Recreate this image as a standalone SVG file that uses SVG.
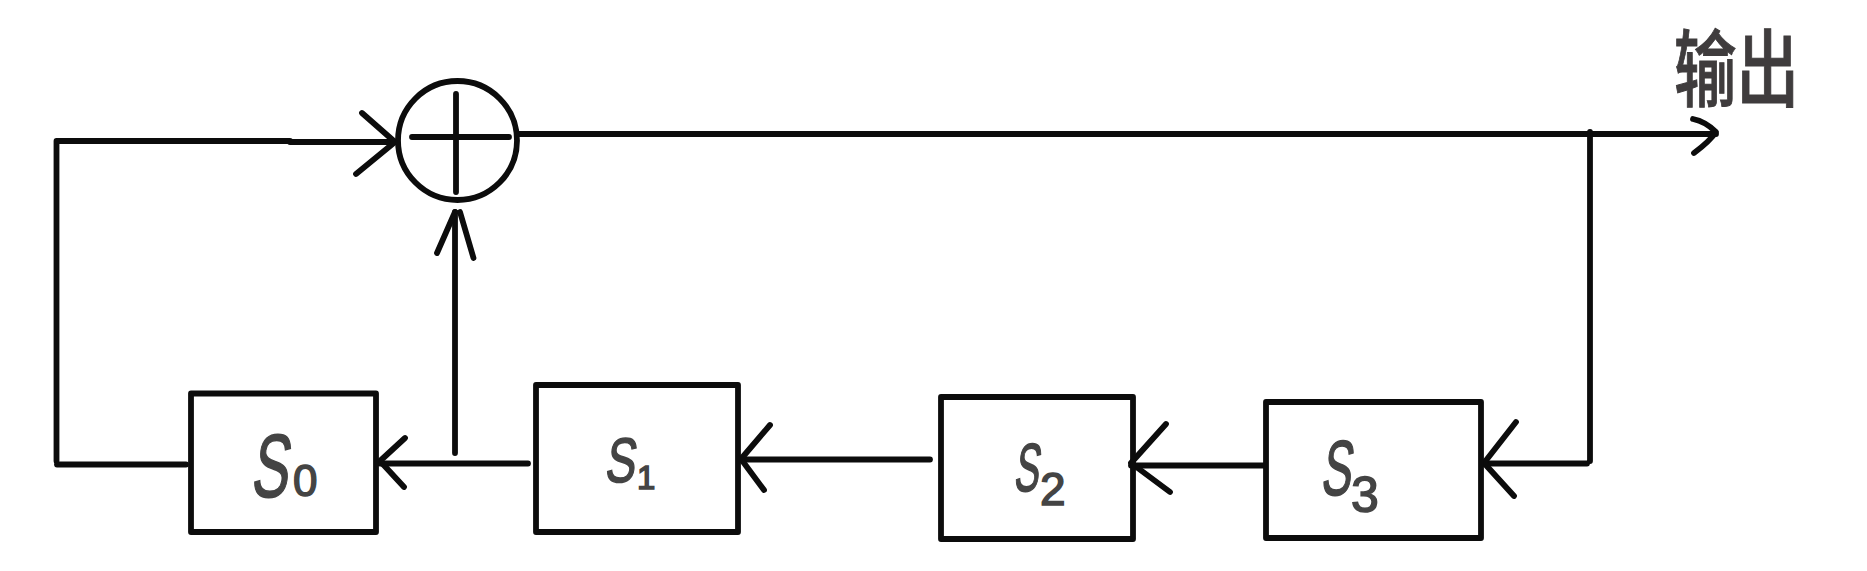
<svg xmlns="http://www.w3.org/2000/svg" width="1867" height="571" viewBox="0 0 1867 571">
<style>
.l{fill:none;stroke:#0c0c0c;stroke-width:5.800;stroke-linecap:round;stroke-linejoin:round}
.b{fill:none;stroke:#0c0c0c;stroke-width:5.800;stroke-linejoin:round}
.s{font-family:"Liberation Sans",sans-serif;fill:#444;stroke:#444;stroke-width:1.5}
.n{font-family:"Liberation Sans",sans-serif;fill:#444;stroke:#444;stroke-width:1.5}
.c{font-family:"Noto Sans CJK SC",sans-serif;font-weight:500;fill:#3f3c3d;stroke:#3f3c3d;stroke-width:1}
</style>
<rect width="1867" height="571" fill="#fff"/>
<g id="connectors">
<path class="l" d="M56.500 461V141H290M290 142H395"/>
<path class="l" d="M362 113L395 142L356 174"/>
<path class="l" d="M57 464.500H186"/>
<path class="l" d="M455 453V212"/>
<path class="l" d="M437 253L455 212M460 212L473.500 258"/>
<path class="l" d="M519 134H1716"/>
<path class="l" d="M1693 119C1703 121 1710 126 1716 132C1710 141 1702 147 1694 153"/>
<path class="l" d="M1590 132V461M1587 463.500H1484"/>
<path class="l" d="M1516 422L1484 463L1514 496"/>
<path class="l" d="M1265 465.500H1131"/>
<path class="l" d="M1166 424L1131 463L1170 492"/>
<path class="l" d="M930 459.500H741"/>
<path class="l" d="M770 425L741 459L764 490"/>
<path class="l" d="M528 463.500H380"/>
<path class="l" d="M405 438L380 461L404 487"/>
</g>
<g id="xor">
<circle cx="457.500" cy="140.500" r="59.500" fill="none" stroke="#0c0c0c" stroke-width="5.800"/>
<path class="l" d="M412 137H509M456 94V192"/>
</g>
<g id="s0">
<rect class="b" x="191" y="393.500" width="185" height="138.500"/>
<text class="s" transform="translate(250 497) skewX(-8) scale(0.62 1)" font-size="90">S</text>
<text class="n" x="293" y="496" font-size="44">0</text>
</g>
<g id="s1">
<rect class="b" x="536" y="385" width="202" height="147"/>
<text class="s" transform="translate(604 482) skewX(-8) scale(0.72 1)" font-size="63">S</text>
<text class="n" x="637" y="489" font-size="33">1</text>
</g>
<g id="s2">
<rect class="b" x="941" y="397" width="192" height="142"/>
<text class="s" transform="translate(1013 491) skewX(-8) scale(0.55 1)" font-size="68">S</text>
<text class="n" x="1040" y="505" font-size="46">2</text>
</g>
<g id="s3">
<rect class="b" x="1266" y="402" width="215" height="136"/>
<text class="s" transform="translate(1320 495) skewX(-8) scale(0.58 1)" font-size="78">S</text>
<text class="n" x="1351" y="512" font-size="50">3</text>
</g>
<g id="output">
<text class="c" x="1674" y="100" font-size="84" textLength="125" lengthAdjust="spacingAndGlyphs">输出</text>
</g>
</svg>
